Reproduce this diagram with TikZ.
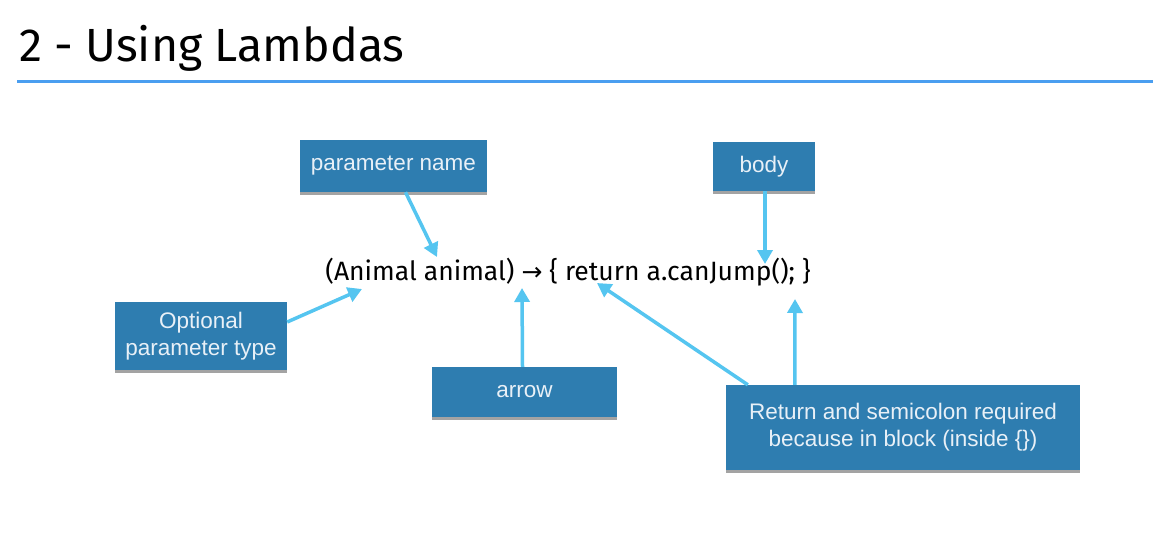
\documentclass[tikz,border=0pt]{standalone}
\usepackage{fontspec}
\setmainfont{Fira Sans}
\newfontfamily\boxfont{Liberation Sans}
\newfontfamily\symfont{DejaVu Sans}
\usetikzlibrary{arrows.meta,shadows}
\definecolor{boxblue}{RGB}{46,125,176}
\definecolor{arrowcyan}{RGB}{85,197,240}
\definecolor{rulecol}{RGB}{74,158,240}
\definecolor{boxtext}{RGB}{232,240,247}
\begin{document}
\begin{tikzpicture}[x=1pt,y=-1pt,
  lbox/.style={fill=boxblue, text=boxtext, font=\boxfont\fontsize{22.5}{27}\selectfont,
    align=center, inner sep=0pt, drop shadow={shadow xshift=0pt, shadow yshift=-3pt, fill=black!45, opacity=0.8}},
  conn/.style={draw=arrowcyan, line width=3.5pt, -{Triangle[length=14pt,width=15pt]}}]
\useasboundingbox[fill=white] (0,0) rectangle (1153,548);
\node[anchor=base west, font=\fontsize{46.5}{52}\selectfont, inner sep=0pt] (title) at (19,62) {2 - Using Lambdas};
\coordinate (ruleL) at (17,82);
\coordinate (ruleR) at (1153,82);
\draw[rulecol, line width=3pt] (ruleL) -- (ruleR);

\node[lbox, minimum width=187pt, minimum height=52pt] (pname) at (393.5,166) {\raisebox{-3pt}{parameter name}};
\node[lbox, minimum width=102pt, minimum height=49pt] (body) at (764,166.5) {\raisebox{-2pt}{body}};
\node[lbox, minimum width=172pt, minimum height=68pt] (opt) at (201,336) {Optional\\parameter type};
\node[lbox, minimum width=185pt, minimum height=50pt] (arr) at (524.5,392) {\raisebox{-2pt}{arrow}};
\node[lbox, minimum width=354pt, minimum height=85pt] (ret) at (903,427.5) {Return and semicolon required\\because in block (inside \{\})};

\node[font=\fontsize{26.5}{30}\selectfont, inner sep=0pt] (code) at (568,272) {(Animal animal) {\symfont\fontsize{25}{30}\selectfont →} \{ return a.canJump(); \}};

\coordinate (tPname) at (437,257);
\coordinate (tOpt) at (362,289);
\coordinate (tArr) at (522,288);
\coordinate (tRet1) at (597,283);
\coordinate (tRet2) at (795,299);
\coordinate (tBody) at (765,264);

\draw[conn] (pname.south) ++(12,0) coordinate (sPname) -- (tPname);
\draw[conn] (opt.east) ++(0,-14) coordinate (sOpt) -- (tOpt);
\draw[conn] (arr.north) ++(-2,0) coordinate (sArr) -- (tArr);
\draw[conn] (ret.north west) ++(22,0) coordinate (sRet1) -- (tRet1);
\draw[conn] (ret.north west) ++(69,0) coordinate (sRet2) -- (tRet2);
\draw[conn] (body.south) ++(1,0) coordinate (sBody) -- (tBody);
\end{tikzpicture}
\end{document}
